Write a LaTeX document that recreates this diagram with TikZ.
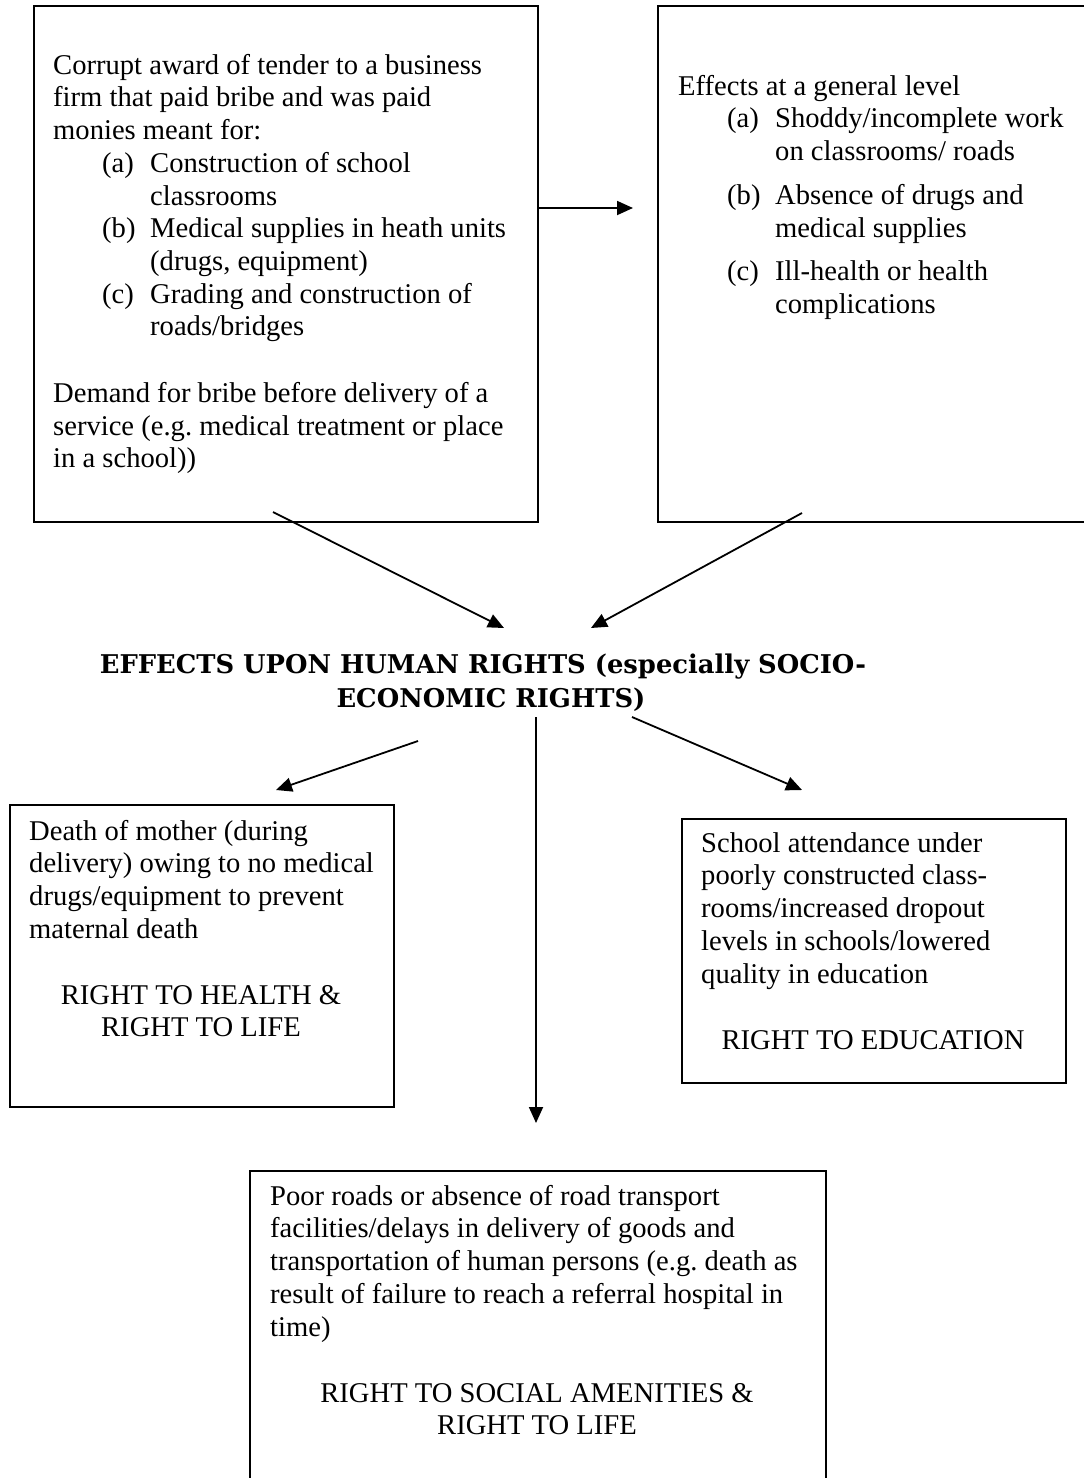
\documentclass[tikz,border=0pt]{standalone}
\usepackage{fontspec}
\setmainfont{Liberation Serif}
\newfontfamily\titlefont{DejaVu Serif}
\usetikzlibrary{arrows.meta}
\frenchspacing
\newcommand{\bodysize}{\fontsize{28.6pt}{32.7pt}\selectfont}
\newcommand{\firstrule}{\rule{0pt}{24pt}}
\newcommand{\lab}[1]{\hspace*{49pt}\makebox[48pt][l]{#1}}
\newcommand{\cont}{\hspace*{97pt}}
\begin{document}
\begin{tikzpicture}[x=1pt,y=-1pt,
  boxnode/.style={draw=black, line width=2.4pt, rectangle, inner sep=0pt, anchor=north west},
  txt/.style={font=\bodysize, align=left, inner sep=0pt, anchor=north west},
  ctxt/.style={font=\bodysize, align=center, inner sep=0pt, anchor=north},
  ttl/.style={font=\titlefont\bfseries\fontsize{25.8pt}{30pt}\selectfont, inner sep=0pt, anchor=base},
  arr/.style={-{Triangle[length=16pt,width=14pt]}, line width=1.8pt}]
\useasboundingbox (0,0) rectangle (1084,1478);
\clip (0,0) rectangle (1084,1478);
\fill[white] (0,0) rectangle (1084,1478);

% boxes
\node[boxnode, minimum width=504pt, minimum height=516pt] (b1) at (33,5) {};
\node[boxnode, minimum width=460pt, minimum height=516pt] (b2) at (657,5) {};
\node[boxnode, minimum width=384pt, minimum height=302pt] (b3) at (9,804) {};
\node[boxnode, minimum width=384pt, minimum height=264pt] (b4) at (681,818) {};
\node[boxnode, minimum width=576pt, minimum height=340pt] (b5) at (249,1170) {};

% box 1 text
\node[txt] (t1) at (53,50) {\firstrule Corrupt award of tender to a business\\
firm that paid bribe and was paid\\
monies meant for:\\
\lab{(a)}Construction of school\\
\cont classrooms\\
\lab{(b)}Medical supplies in heath units\\
\cont (drugs, equipment)\\
\lab{(c)}Grading and construction of\\
\cont roads/bridges\\[34pt]
Demand for bribe before delivery of a\\
service (e.g. medical treatment or place\\
in a school))};

% box 2 text
\node[txt] (t2) at (678,71) {\firstrule Effects at a general level\\
\lab{(a)}Shoddy/incomplete work\\
\cont on classrooms/ roads\\[11pt]
\lab{(b)}Absence of drugs and\\
\cont medical supplies\\[11pt]
\lab{(c)}Ill-health or health\\
\cont complications};

% title
\node[ttl] (title1) at (483,673) {EFFECTS UPON HUMAN RIGHTS (especially SOCIO-};
\node[ttl] (title2) at (491,707) {ECONOMIC RIGHTS)};

% box 3 text
\node[txt] (t3) at (29,816) {\firstrule Death of mother (during\\
delivery) owing to no medical\\
drugs/equipment to prevent\\
maternal death};
\node[ctxt] (r3) at (201,980) {\firstrule RIGHT TO HEALTH \&\\ RIGHT TO LIFE};

% box 4 text
\node[txt] (t4) at (701,828) {\firstrule School attendance under\\
poorly constructed class-\\
rooms/increased dropout\\
levels in schools/lowered\\
quality in education};
\node[ctxt] (r4) at (873,1025) {\firstrule RIGHT TO EDUCATION};

% box 5 text
\node[txt] (t5) at (270,1181) {\firstrule Poor roads or absence of road transport\\
facilities/delays in delivery of goods and\\
transportation of human persons (e.g. death as\\
result of failure to reach a referral hospital in\\
time)};
\node[ctxt] (r5) at (537,1378) {\firstrule RIGHT TO SOCIAL AMENITIES \&\\ RIGHT TO LIFE};

% connector end points
\coordinate (a1e) at (633,208);
\coordinate (a2s) at (273,512);
\coordinate (a2e) at (504,628);
\coordinate (a3s) at (802,513);
\coordinate (a3e) at (591,628);
\coordinate (a4s) at (418,741);
\coordinate (a4e) at (276,790);
\coordinate (a5s) at (536,717);
\coordinate (a5e) at (536,1123);
\coordinate (a6s) at (632,717);
\coordinate (a6e) at (802,790);

\draw[arr] (b1.east |- a1e) -- (a1e);
\draw[arr] (a2s) -- (a2e);
\draw[arr] (a3s) -- (a3e);
\draw[arr] (a4s) -- (a4e);
\draw[arr] (a5s) -- (a5e);
\draw[arr] (a6s) -- (a6e);
\end{tikzpicture}
\end{document}
